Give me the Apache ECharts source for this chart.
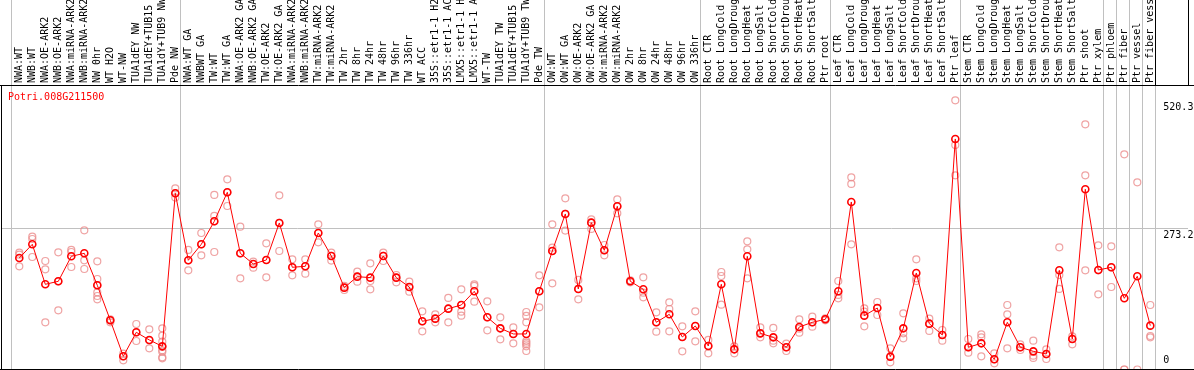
<!DOCTYPE html>
<html>
<head>
<meta charset="utf-8">
<script src="https://cdn.jsdelivr.net/npm/echarts@6/dist/echarts.min.js"></script>
<style>
html,body{margin:0;padding:0;background:#fff;}
#chart{width:1194px;height:370px;}
</style>
</head>
<body>
<div id="chart"></div>
<script>
const geneId = 'Potri.008G211500';

const categories = [
  'NWA:WT','NWB:WT','NWA:OE-ARK2','NWB:OE-ARK2','NWA:miRNA-ARK2','NWB:miRNA-ARK2','NW 0hr','WT H2O','WT-NW','TUA1dEY NW',
  'TUA1dEY+TUB15 NW','TUA1dY+TUB9 NW','Pde NW','NWA:WT GA','NWBWT GA','TW:WT','TW:WT GA','NWA:OE-ARK2 GA','NWB:OE-ARK2 GA','TW:OE-ARK2',
  'TW:OE-ARK2 GA','NWA:miRNA-ARK2','NWB:miRNA-ARK2','TW:miRNA-ARK2','TW:miRNA-ARK2','TW 2hr','TW 8hr','TW 24hr','TW 48hr','TW 96hr',
  'TW 336hr','WT ACC','35S::etr1-1 H2O','35S::etr1-1 ACC','LMX5::etr1-1 H2O','LMX5::etr1-1 ACC','WT-TW','TUA1dEY TW','TUA1dEY+TUB15 TW','TUA1dY+TUB9 TW',
  'Pde TW','OW:WT','OW:WT GA','OW:OE-ARK2','OW:OE-ARK2 GA','OW:miRNA-ARK2','OW:miRNA-ARK2','OW 2hr','OW 8hr','OW 24hr',
  'OW 48hr','OW 96hr','OW 336hr','Root CTR','Root LongCold','Root LongDrought','Root LongHeat','Root LongSalt','Root ShortCold','Root ShortDrought',
  'Root ShortHeat','Root ShortSalt','Ptr root','Leaf CTR','Leaf LongCold','Leaf LongDrought','Leaf LongHeat','Leaf LongSalt','Leaf ShortCold','Leaf ShortDrought',
  'Leaf ShortHeat','Leaf ShortSalt','Ptr leaf','Stem CTR','Stem LongCold','Stem LongDrought','Stem LongHeat','Stem LongSalt','Stem ShortCold','Stem ShortDrought',
  'Stem ShortHeat','Stem ShortSalt','Ptr shoot','Ptr xylem','Ptr phloem','Ptr fiber','Ptr vessel','Ptr fiber vessel'
];

const meanValues = [
  215.6, 242.0, 164.7, 170.5, 218.8, 224.6, 162.8, 95.1, 25.5, 71.9,
  57.1, 44.8, 340.6, 211.1, 242.0, 286.5, 342.6, 224.6, 204.0, 211.7,
  283.3, 197.6, 199.5, 263.9, 219.5, 158.2, 179.5, 177.6, 219.5, 177.6,
  159.5, 93.2, 98.3, 117.6, 124.7, 151.2, 100.9, 79.6, 68.7, 68.7,
  151.2, 229.1, 300.7, 155.7, 283.9, 230.4, 315.5, 170.5, 155.0, 91.2,
  106.7, 62.9, 84.1, 45.5, 164.7, 39.0, 218.8, 69.9, 62.2, 42.9,
  82.2, 91.2, 97.0, 151.2, 323.9, 104.1, 118.9, 24.8, 79.6, 186.6,
  88.6, 66.7, 445.7, 42.9, 50.6, 19.7, 91.2, 42.9, 35.1, 30.0,
  191.8, 59.0, 348.4, 192.4, 197.6, 137.6, 180.2, 84.8
];

const replicateValues = [
  [225.9, 222.0, 199.5], [256.9, 252.3, 217.5], [209.8, 193.7, 91.2], [226.6, 170.5, 114.4], [231.1, 227.2, 198.2],
  [269.1, 211.1, 194.3], [209.2, 175.0, 163.4, 149.2, 142.1, 135.7], [97.0, 95.1, 91.2], [30.6, 25.5, 17.7], [88.0, 71.9, 55.1],
  [77.7, 56.4, 40.9], [79.6, 65.4, 53.8, 43.5, 37.1, 34.5, 23.5, 21.6], [350.3, 340.6, 332.3], [231.1, 211.1, 191.8], [263.9, 242.0, 220.8],
  [337.4, 296.8, 286.5, 227.2], [367.7, 342.6, 316.1], [276.2, 224.6, 176.3], [208.5, 204.0, 196.9], [244.0, 211.7, 178.2],
  [336.8, 283.3, 229.1], [213.0, 197.6, 182.1], [213.0, 199.5, 185.3], [280.7, 263.9, 245.9], [225.9, 219.5, 210.5],
  [161.5, 158.2, 153.7], [189.2, 179.5, 169.8], [205.3, 171.1, 155.0], [225.9, 219.5, 209.8], [182.7, 177.6, 168.6],
  [169.8, 159.5, 150.5], [112.5, 93.2, 73.8], [106.7, 98.3, 91.2], [138.3, 117.6, 91.2], [155.0, 124.7, 111.8, 104.1],
  [164.7, 161.5, 131.2], [131.8, 100.9, 75.7], [100.9, 79.6, 58.4], [81.5, 68.7, 50.6], [111.2, 103.5, 91.2, 55.1, 51.9, 48.7, 44.8, 35.8],
  [182.1, 151.2, 120.2], [280.7, 235.6, 229.1, 166.6], [331.0, 300.7, 268.5], [173.1, 155.7, 135.7], [290.4, 283.9, 271.7],
  [240.7, 230.4, 220.8], [329.0, 315.5, 302.0], [172.4, 170.5, 168.6], [178.2, 148.6, 139.6], [110.6, 91.2, 73.2],
  [129.9, 117.0, 73.8], [83.5, 62.9, 35.1], [112.5, 84.1, 54.5], [57.1, 45.5, 31.3], [188.5, 180.8, 125.4],
  [44.8, 39.0, 31.3], [247.8, 232.4, 176.3], [81.5, 69.9, 62.2], [80.3, 55.8, 50.6], [50.0, 42.9, 35.8],
  [97.0, 79.0, 71.2], [102.2, 91.2, 82.8], [98.9, 97.0, 95.1], [171.1, 144.1, 137.6], [371.6, 358.7, 242.0],
  [118.3, 111.8, 83.5], [130.5, 118.9, 105.4], [40.9, 24.8, 13.9], [108.6, 69.9, 60.3], [213.0, 176.3, 171.1],
  [98.3, 88.6, 74.5], [76.4, 66.7, 55.8], [520.3, 434.1, 375.4], [59.0, 42.9, 32.6], [68.0, 62.2, 25.5],
  [31.3, 19.7, 11.9], [124.7, 106.7, 40.9], [48.7, 42.9, 37.7], [55.8, 26.8, 22.3], [39.0, 29.3, 20.3],
  [236.2, 182.7, 155.7], [64.1, 59.0, 48.7], [474.0, 375.4, 191.8], [240.1, 191.8, 145.4], [238.2, 197.6, 159.5],
  [416.0, 0, 0], [361.9, 0], [124.7, 64.8, 62.2]
];

// boundaries (index of category that follows the separator)
const groupBreaks = [0, 13, 41, 53, 63, 73, 84, 85, 86, 87, 88];
const yAxisLabels = [0, 273.2, 520.3];
const gridLineValues = [273.2];

const MONO = '"DejaVu Sans Mono", "Liberation Mono", monospace';
const RED = '#ff0000';
const PINK = '#eb8c8c';
const GRAY = '#c0c0c0';

const replicatePoints = [];
replicateValues.forEach((arr, i) => arr.forEach(v => replicatePoints.push([i, v])));

const chart = echarts.init(document.getElementById('chart'), null, {renderer: 'canvas'});

function bandX(api, b) {
  const band = api.size([1, 0])[0];
  if (b === 0) return api.coord([0, 0])[0] - band / 2 - 1.5;
  return api.coord([b - 1, 0])[0] + band / 2 - 1.5;
}

chart.setOption({
  animation: false,
  title: {
    text: geneId, left: 8, top: 92, padding: 0,
    textStyle: {color: RED, fontSize: 10, fontWeight: 'normal', fontFamily: MONO}
  },
  grid: {left: 12.8, top: 85, width: 1144, height: 284.5, containLabel: false, outerBoundsMode: 'none'},
  xAxis: {
    type: 'category', data: categories, position: 'top', boundaryGap: true,
    axisLine: {show: false}, axisTick: {show: false}, splitLine: {show: false},
    axisLabel: {interval: 0, rotate: 90, margin: 2, fontSize: 10, fontFamily: MONO, color: '#000', hideOverlap: false}
  },
  yAxis: {
    type: 'value', min: 0, max: 550, show: false, splitLine: {show: false}
  },
  series: [
    {
      type: 'custom', name: 'separators', silent: true, clip: false, z: 1,
      data: groupBreaks.map(b => [b, 0]),
      renderItem: function (params, api) {
        const b = api.value(0);
        const x = Math.round(bandX(api, b)) + 0.5;
        const yBottom = api.coord([0, 0])[1];
        const yTop = api.coord([0, 550])[1];
        const isLast = b === categories.length;
        return {type: 'group', children: [
          {type: 'line', shape: {x1: x, y1: 0, x2: x, y2: yTop},
            style: {stroke: isLast ? '#000' : GRAY, lineWidth: 1}},
          {type: 'line', shape: {x1: x, y1: yTop, x2: x, y2: yBottom},
            style: {stroke: GRAY, lineWidth: 1}}
        ]};
      }
    },
    {
      type: 'custom', name: 'grid', silent: true, clip: false, z: 1,
      data: gridLineValues.map(v => [0, v]),
      renderItem: function (params, api) {
        const y = Math.round(api.coord([0, api.value(1)])[1]) + 0.5;
        return {type: 'line', shape: {x1: 1, y1: y, x2: 1188, y2: y},
          style: {stroke: GRAY, lineWidth: 1}};
      }
    },
    {
      type: 'custom', name: 'ylabels', silent: true, clip: false, z: 5,
      data: yAxisLabels.map(v => [0, v]),
      renderItem: function (params, api) {
        const v = api.value(1);
        const y = api.coord([0, v])[1];
        const x = api.coord([categories.length - 1, 0])[0] + api.size([1, 0])[0] / 2 + 6.5;
        const isZero = v === 0;
        return {type: 'text', style: {
          x: x, y: isZero ? y - 4 : y + 2, text: String(v),
          fill: '#000', font: '10px ' + MONO, align: 'left', verticalAlign: isZero ? 'bottom' : 'top'
        }};
      }
    },
    {
      type: 'scatter', name: 'replicates', data: replicatePoints, z: 2,
      symbol: 'circle', symbolSize: 7, clip: false,
      itemStyle: {color: 'rgba(0,0,0,0)', borderColor: PINK, borderWidth: 1.2}
    },
    {
      type: 'line', name: 'mean', data: meanValues, z: 3,
      symbol: 'circle', symbolSize: 7, showAllSymbol: true,
      lineStyle: {color: RED, width: 1},
      itemStyle: {color: 'rgba(0,0,0,0)', borderColor: RED, borderWidth: 1.6}
    }
  ],
  graphic: [
    {type: 'line', shape: {x1: 0, y1: 85.5, x2: 1194, y2: 85.5}, style: {stroke: '#000', lineWidth: 1}, z: 10},
    {type: 'line', shape: {x1: 1.5, y1: 85, x2: 1.5, y2: 370}, style: {stroke: '#000', lineWidth: 1}, z: 10},
    {type: 'line', shape: {x1: 0, y1: 369.5, x2: 1194, y2: 369.5}, style: {stroke: '#000', lineWidth: 1}, z: 10},
    {type: 'line', shape: {x1: 1188.5, y1: 0, x2: 1188.5, y2: 85}, style: {stroke: '#000', lineWidth: 1}, z: 10}
  ]
});
</script>
</body>
</html>
